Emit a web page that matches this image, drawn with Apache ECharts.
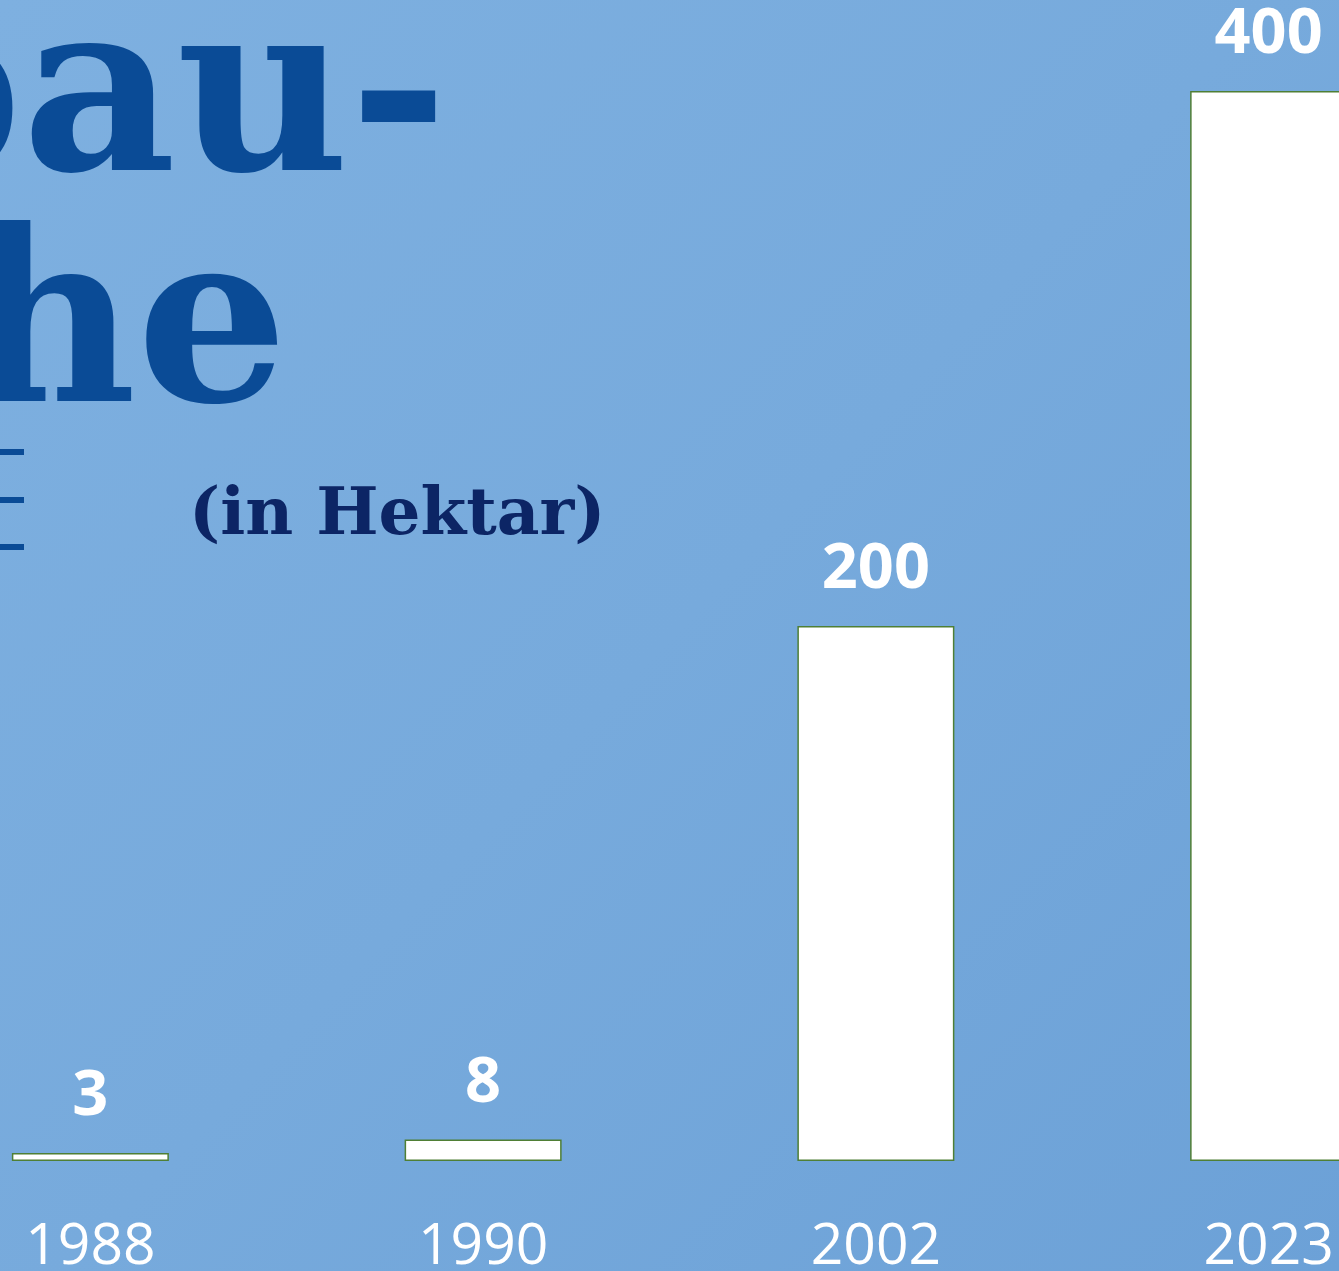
<!DOCTYPE html>
<html>
<head>
<meta charset="utf-8">
<script src="https://cdn.jsdelivr.net/npm/echarts@6/dist/echarts.min.js"></script>
<style>
  html, body { margin: 0; padding: 0; }
  #main { width: 1339px; height: 1271px; }
</style>
</head>
<body>
<div id="main"></div>
<script>
// Jahre und Fläche (in Hektar)
var years = ['1988', '1990', '2002', '2023'];
var hektar = [3, 8, 200, 400];
var yMax = 400;

var myChart = echarts.init(document.getElementById('main'));

var option = {
	backgroundColor: {
		type: 'linear', x: 0, y: 0, x2: 1, y2: 1,
		colorStops: [
			{ offset: 0, color: '#7eb0e0' },
			{ offset: 0.5, color: '#77aadc' },
			{ offset: 1, color: '#6ca1d7' }
		]
	},
	animation: false,
	graphic: [
		// Titel, links angeschnitten
		{
			type: 'text', x: 448, y: -11,
			style: {
				text: 'bau-', fill: '#0a4b96',
				font: 'bold 238px "DejaVu Serif"',
				align: 'right', verticalAlign: 'top'
			}
		},
		{
			type: 'text', x: 288, y: 220,
			style: {
				text: 'he', fill: '#0a4b96',
				font: 'bold 238px "DejaVu Serif"',
				align: 'right', verticalAlign: 'top'
			}
		},
		{ type: 'rect', shape: { x: 0, y: 449, width: 24, height: 6 }, style: { fill: '#0a4b96' } },
		{ type: 'rect', shape: { x: 0, y: 497, width: 24, height: 6 }, style: { fill: '#0a4b96' } },
		{ type: 'rect', shape: { x: 0, y: 544, width: 24, height: 6 }, style: { fill: '#0a4b96' } },
		{
			type: 'text', x: 189, y: 484,
			style: {
				text: '(in Hektar)', fill: '#0c2565',
				font: 'bold 66px "DejaVu Serif"',
				align: 'left', verticalAlign: 'top'
			}
		}
	],
	grid: {
		left: -106,
		right: -126,
		top: 91,
		bottom: 110,
		outerBoundsMode: 'none'
	},
	xAxis: {
		type: 'category',
		data: years,
		axisLine: { show: false },
		axisTick: { show: false },
		axisLabel: {
			color: '#ffffff',
			fontFamily: 'Open Sans',
			fontSize: 57,
			margin: 58
		}
	},
	yAxis: {
		type: 'value',
		min: 0,
		max: yMax,
		show: false,
		splitLine: { show: false }
	},
	series: [{
		type: 'bar',
		data: hektar,
		barWidth: 157,
		itemStyle: {
			color: '#ffffff',
			borderColor: '#4f7f35',
			borderWidth: 1.5
		},
		label: {
			show: true,
			position: 'top',
			distance: 24,
			color: '#ffffff',
			fontFamily: 'Open Sans',
			fontWeight: 'bold',
			fontSize: 63
		}
	}]
};

myChart.setOption(option);
</script>
</body>
</html>
